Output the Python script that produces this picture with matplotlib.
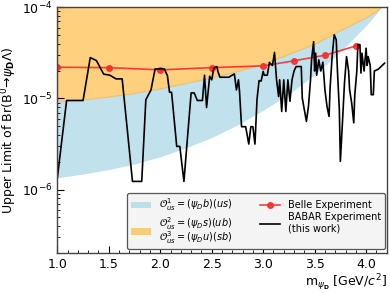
import numpy as np
import matplotlib
matplotlib.use("Agg")
import matplotlib.pyplot as plt
from matplotlib.patches import Patch
from matplotlib.lines import Line2D
from matplotlib.ticker import MultipleLocator, LogLocator, NullFormatter

# ---- theory bands ----
band_m = [1.0, 1.25, 1.5, 1.75, 2.0, 2.25, 2.5, 2.75, 3.0, 3.25, 3.5, 3.75, 4.0, 4.1, 4.2]
band_low = [1.35e-6, 1.48e-6, 1.66e-6, 1.91e-6, 2.29e-6, 2.88e-6, 3.72e-6, 5.13e-6,
            7.41e-6, 1.12e-5, 1.82e-5, 3.24e-5, 6.31e-5, 8.51e-5, 1.26e-4]
band_up = [9.33e-6, 9.77e-6, 1.05e-5, 1.15e-5, 1.29e-5, 1.48e-5, 1.70e-5, 2.0e-5,
           2.40e-5, 3.09e-5, 3.98e-5, 5.62e-5, 7.76e-5, 9.12e-5, 1.12e-4]
band_top = [1e-3] * len(band_m)

# ---- Belle ----
belle_m = [1.0, 1.5, 2.0, 2.5, 3.0, 3.3, 3.6, 3.9]
belle_ul = [2.2e-5, 2.18e-5, 2.06e-5, 2.18e-5, 2.28e-5, 2.59e-5, 2.98e-5, 3.77e-5]

# ---- BABAR ----
babar_m = [1.00, 1.09, 1.25, 1.32, 1.38, 1.45, 1.51, 1.57, 1.63, 1.67, 1.73, 1.82,
           1.86, 1.91, 1.95, 2.04, 2.07, 2.09, 2.11, 2.16, 2.19, 2.23, 2.30, 2.33,
           2.36, 2.41, 2.43, 2.45, 2.48, 2.50, 2.52, 2.55, 2.56, 2.58, 2.67, 2.68,
           2.72, 2.74, 2.76, 2.77, 2.79, 2.83, 2.86, 2.88, 2.90, 2.92, 2.94, 2.95,
           2.96, 2.98, 3.00, 3.01, 3.04, 3.06, 3.09, 3.11, 3.13, 3.15, 3.16, 3.18,
           3.20, 3.22, 3.24, 3.26, 3.28, 3.30, 3.32, 3.37, 3.38, 3.40, 3.42, 3.44,
           3.46, 3.47, 3.49, 3.50, 3.51, 3.52, 3.54, 3.56, 3.58, 3.60, 3.62, 3.64,
           3.65, 3.67, 3.69, 3.71, 3.72, 3.74, 3.75, 3.77, 3.79, 3.81, 3.83, 3.84,
           3.86, 3.88, 3.89, 3.91, 3.92, 3.94, 3.95, 3.96, 3.98, 4.00, 4.01, 4.02,
           4.04, 4.05, 4.07, 4.08, 4.12, 4.18]
babar_ul = [1.34e-6, 9.5e-6, 9.5e-6, 2.81e-5, 2.6e-5, 1.85e-5, 1.8e-5, 1.64e-5, 1.64e-5,
            5.85e-6, 1.23e-6, 1.23e-6,
            9.7e-6, 1.24e-5, 2.11e-5, 2.11e-5, 1.77e-5, 1.17e-5, 1.17e-5, 2.98e-6,
            2.98e-6, 1.23e-6, 1.15e-5, 1.15e-5,
            9.5e-6, 9.5e-6, 1.8e-5, 7.96e-6, 1.75e-5, 1.6e-5, 2.15e-5, 2.24e-5, 1.98e-5,
            1.71e-5, 1.71e-5, 1.75e-5,
            1.86e-5, 1.24e-5, 1.6e-5, 1.2e-5, 4.9e-6, 4.9e-6, 3.16e-6, 4.9e-6, 4.9e-6,
            3.16e-6, 9.7e-6, 1.24e-5,
            1.57e-5, 1.55e-5, 1.98e-5, 1.8e-5, 1.8e-5, 2.48e-5, 2.3e-5, 3.2e-5, 1.6e-5,
            1.05e-5, 1.6e-5, 7.2e-6,
            1.6e-5, 7.2e-6, 1.6e-5, 9.3e-6, 1.6e-5, 2.0e-5, 2.24e-5, 2.24e-5, 1.01e-5,
            7.5e-6, 5.6e-6, 8.2e-6,
            1.6e-5, 2.65e-5, 4.2e-5, 2.0e-5, 3.14e-5, 1.8e-5, 2.65e-5, 2.0e-5, 2.5e-5,
            1.24e-5, 8.2e-6, 6.35e-6,
            1.3e-5, 2.88e-5, 5.0e-5, 4.4e-5, 2.2e-5, 7.5e-6, 2.04e-6, 5.4e-6, 1.48e-5,
            2.88e-5, 2.0e-5, 1.24e-5,
            8.9e-6, 5.4e-6, 1.1e-5, 2.0e-5, 3.9e-5, 3.9e-5, 1.9e-5, 3.14e-5, 2.0e-5,
            3.56e-5, 2.3e-5, 2.88e-5,
            2.3e-5, 1.1e-5, 1.1e-5, 2.0e-5, 2.1e-5, 2.44e-5]

fig = plt.figure(figsize=(3.9, 2.93), dpi=100)
ax = fig.add_axes([0.147, 0.1355, 0.8445, 0.8395])

ax.fill_between(band_m, band_low, band_up, color="lightblue", alpha=0.75, lw=0)
ax.fill_between(band_m, band_up, band_top, color="orange", alpha=0.5, lw=0.8,
                edgecolor=(0.93, 0.65, 0.2, 0.6))
ax.plot(belle_m, belle_ul, color="#ff2a2a", lw=1.2, marker="o", ms=4, alpha=0.9)
ax.plot(babar_m, babar_ul, color="black", lw=1.2)

ax.set_yscale("log")
ax.set_xlim(1.0, 4.2)
ax.set_ylim(2e-7, 1e-4)

ax.xaxis.set_major_locator(MultipleLocator(0.5))
ax.xaxis.set_minor_locator(MultipleLocator(0.1))
ax.yaxis.set_major_locator(LogLocator(base=10, numticks=10))
ax.yaxis.set_minor_locator(LogLocator(base=10, subs=np.arange(2, 10), numticks=20))
ax.yaxis.set_minor_formatter(NullFormatter())
ax.tick_params(which="both", direction="in", labelsize=9, colors="black")
ax.tick_params(which="major", length=5, width=0.8)
ax.tick_params(which="minor", length=2.5, width=0.6)
for s in ax.spines.values():
    s.set_color("#444444")
    s.set_linewidth(1.0)

ax.set_ylabel(r"Upper Limit of Br(B$^0\!\rightarrow\!\psi_{\mathbf{D}}\Lambda$)", fontsize=9, labelpad=2)
ax.set_xlabel(r"m$_{\psi_\mathbf{D}}$ [GeV/$c^2$]", fontsize=9, loc="right", labelpad=1)

handles = [
    Patch(facecolor="lightblue", alpha=0.75, lw=0),
    Patch(facecolor="orange", alpha=0.5, lw=0),
    Line2D([], [], color="#ff2a2a", lw=1.2, marker="o", ms=4, alpha=0.9),
    Line2D([], [], color="black", lw=1.2),
]
labels = [
    r"$\mathcal{O}^1_{us}=(\psi_D b)(us)$",
    r"$\mathcal{O}^2_{us}=(\psi_D s)(ub)$" + "\n" + r"$\mathcal{O}^3_{us}=(\psi_D u)(sb)$",
    "Belle Experiment",
    "BABAR Experiment\n(this work)",
]
leg = ax.legend(handles, labels, ncol=2, loc="lower right",
                bbox_to_anchor=(0.995, 0.016), borderaxespad=0, fontsize=7,
                frameon=True, fancybox=True, framealpha=1, facecolor="#f4f4f4",
                edgecolor="#555555", columnspacing=2.8, handlelength=2.1,
                handletextpad=0.85, borderpad=0.35, labelspacing=0.2)
leg.get_frame().set_linewidth(0.9)
leg.get_texts()[1].set_linespacing(0.75)

fig.savefig("out.png", dpi=100)
